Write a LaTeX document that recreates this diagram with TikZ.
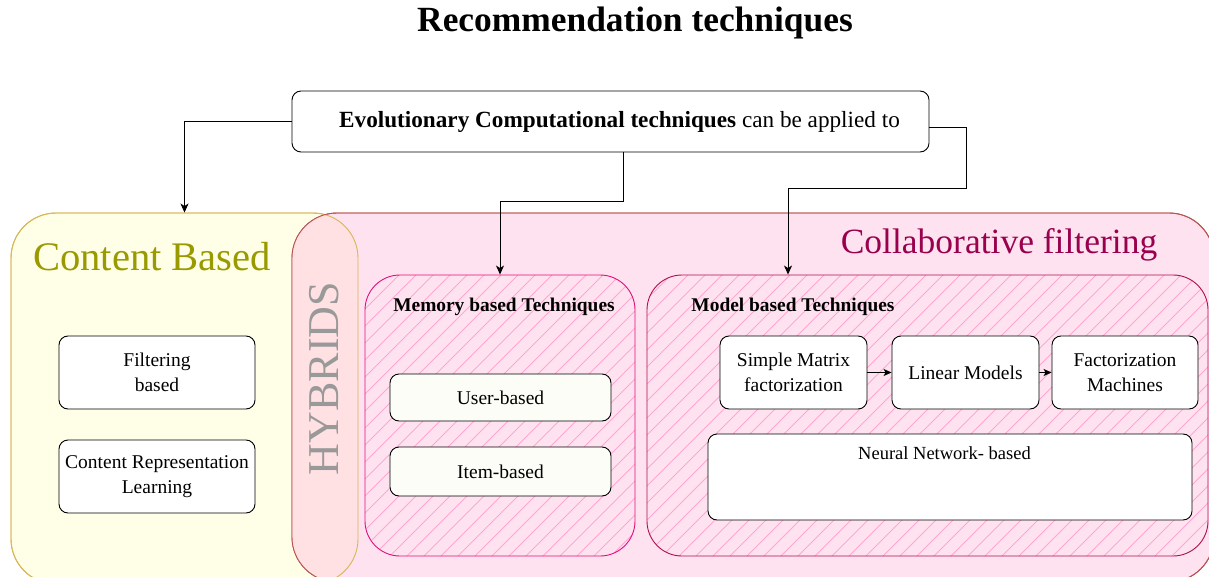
\documentclass[tikz,border=0pt]{standalone}
\usepackage{fontspec}
\setmainfont{Liberation Serif}
\usetikzlibrary{arrows.meta,calc}

\definecolor{cbfill}{HTML}{FFFEE6}
\definecolor{cbline}{HTML}{D6B656}
\definecolor{cbtext}{HTML}{999900}
\definecolor{cffill}{HTML}{FFE2F0}
\definecolor{cfline}{HTML}{B85450}
\definecolor{cftext}{HTML}{99004D}
\definecolor{hyfill}{HTML}{FFE0E3}
\definecolor{hytext}{HTML}{999999}
\definecolor{memline}{HTML}{E0107A}
\definecolor{modline}{HTML}{B0104F}
\definecolor{hatchcol}{HTML}{FFA6D2}
\definecolor{offwhite}{HTML}{FDFDF7}

\newcommand{\fsz}[1]{\fontsize{#1}{\fpeval{#1*1.27}}\selectfont}

\tikzset{
  box/.style={draw=black, line width=0.9pt, rounded corners=9pt, fill=white,
    align=center, inner sep=0pt, font=\fsz{19.5}},
  group/.style={line width=0.9pt, inner sep=0pt},
  conn/.style={line width=0.9pt, -{Stealth[length=9pt,width=8pt,inset=2.5pt]}},
  hatchline/.style={hatchcol, line width=0.8pt},
  heading/.style={font=\bfseries\fsz{19.4}, inner sep=0pt},
}

\begin{document}
\begin{tikzpicture}[x=1pt,y=-1pt]
\useasboundingbox (0,0) rectangle (1209,577);
\clip (0,0) rectangle (1209,577);

% title
\node[font=\bfseries\fsz{35.4}, inner sep=0pt] (title) at (635,23) {Recommendation techniques};

% outer groups
\node[group, draw=cbline, fill=cbfill, rounded corners=45pt,
      minimum width=347pt, minimum height=371pt] (cb) at (184.5,398.5) {};
\node[group, draw=cfline, fill=cffill, rounded corners=45pt,
      minimum width=922pt, minimum height=369pt] (cf) at (753,397.5) {};

% overlap of the two groups
\begin{scope}
  \clip[rounded corners=45pt] (11,213) rectangle (358,584);
  \fill[hyfill, rounded corners=45pt] (292,213) rectangle (1214,582);
\end{scope}
\draw[cbline, line width=0.9pt, rounded corners=45pt] (11,213) rectangle (358,584);
\draw[cfline, line width=0.9pt, rounded corners=45pt] (292,213) rectangle (1214,582);

% group labels
\node[cbtext, font=\fsz{40.6}, inner sep=0pt] (cbl) at (152,257) {Content Based};
\node[cftext, font=\fsz{35.5}, inner sep=0pt] (cfl) at (999,245) {Collaborative filtering};
\node[hytext, font=\fsz{44}, inner sep=0pt, rotate=90] (hyl) at (324,378.5) {HYBRIDS};

% hatching of the two technique groups
\begin{scope}
  \clip[rounded corners=35pt] (365,275) rectangle (635,556)
                              (647,275) rectangle (1208,556);
  \foreach \k in {0,...,105}
    \draw[hatchline] ({\k*17-320},620) -- ++(660,-660);
\end{scope}

\node[group, draw=memline, rounded corners=35pt,
      minimum width=270pt, minimum height=281pt] (mem) at (500,415.5) {};
\node[group, draw=modline, rounded corners=35pt,
      minimum width=561pt, minimum height=281pt] (mod) at (927.5,415.5) {};

\node[heading] (meml) at (504,307) {Memory based Techniques};
\node[heading] (modl) at (793,307) {Model based Techniques};

% content based boxes
\node[box, minimum width=196pt, minimum height=73pt] (filt) at (157,372.5) {Filtering\\based};
\node[box, minimum width=196pt, minimum height=73pt] (crl) at (157,476.5) {Content Representation\\Learning};

% memory based boxes
\node[box, fill=offwhite, minimum width=221pt, minimum height=47pt] (user) at (500.5,397.5) {User-based};
\node[box, fill=offwhite, minimum width=221pt, minimum height=49pt] (item) at (500.5,471.5) {Item-based};

% model based boxes
\node[box, minimum width=147pt, minimum height=73pt] (smf) at (793.5,372.5) {Simple Matrix\\factorization};
\node[box, minimum width=147pt, minimum height=73pt] (lin) at (965.5,372.5) {Linear Models};
\node[box, minimum width=146pt, minimum height=73pt] (fm) at (1125,372.5) {Factorization\\Machines};
\node[box, minimum width=484pt, minimum height=86pt] (nn) at (950,477) {};
\node[font=\fsz{18.5}, inner sep=0pt] (nnl) at (944.5,453) {Neural Network- based};

\draw[conn, -{Stealth[length=8pt,width=7pt,inset=2pt]}] (smf) -- (lin);
\draw[conn, -{Stealth[length=8pt,width=7pt,inset=2pt]}] (lin) -- (fm);

% evolutionary computation box
\node[box, minimum width=637pt, minimum height=61pt] (ect) at (610.5,121.5) {};
\node[font=\fsz{23.2}, inner sep=0pt] (ectl) at (619.5,121.5)
  {\textbf{Evolutionary Computational techniques} can be applied to};

% connectors
\draw[conn] (ect.west) -| (cb.north);
\draw[conn] ([xshift=12.5pt]ect.south) -- ++(0,49) -| (mem.north);
\draw[conn] ([yshift=-6pt]ect.east) -| (966,188) -| (788,0 |- mod.north);
\end{tikzpicture}
\end{document}
